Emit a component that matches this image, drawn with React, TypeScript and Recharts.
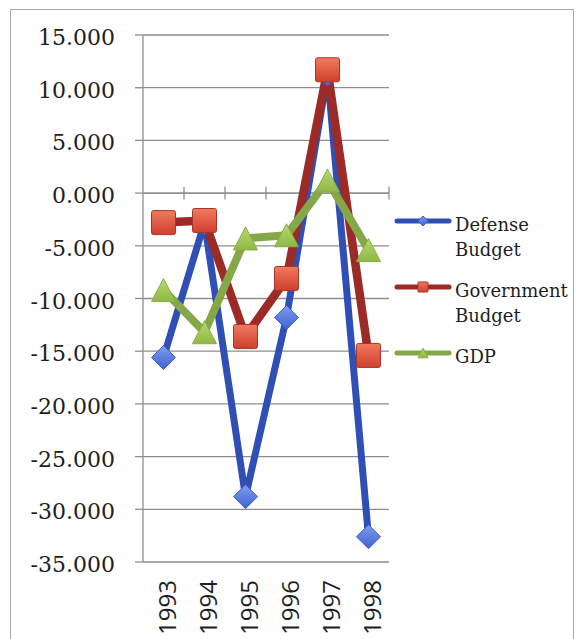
import React from "react";
import {
  LineChart,
  Line,
  XAxis,
  YAxis,
  CartesianGrid,
  ReferenceLine,
  Legend
} from "recharts";

const years = ["1993", "1994", "1995", "1996", "1997", "1998"];
const defenseBudget = [-15.6, -2.8, -28.8, -11.8, 11.3, -32.6];
const governmentBudget = [-2.8, -2.6, -13.6, -8.1, 11.7, -15.4];
const gdp = [-9.2, -13.2, -4.3, -4.0, 1.2, -5.4];
const yTicks = [-35, -30, -25, -20, -15, -10, -5, 0, 5, 10, 15];

// x is a numeric index so the tick marks on the zero line can sit between categories
const chartData = years.map((year, i) => ({
  pos: i + 0.5,
  year,
  defense: defenseBudget[i],
  government: governmentBudget[i],
  gdp: gdp[i]
}));
const xTicks = years.map((_, i) => i + 0.5);
const boundaries = years.map((_, i) => i + 1);

const GRID = "#8e8e8e";
const SERIF = "'DejaVu Serif', serif";

const series = [
  { key: "defense", name: "Defense Budget", line: "#2f4fb5", width: 7, marker: "diamond" },
  { key: "government", name: "Government Budget", line: "#9c2a27", width: 8.5, marker: "square" },
  { key: "gdp", name: "GDP", line: "#84a848", width: 8, marker: "triangle" }
];

function Marker({ kind, cx, cy, s = 1 }: { kind: string; cx: number; cy: number; s?: number }) {
  if (cx == null || cy == null) return null;
  if (kind === "diamond") {
    const r = 12 * s;
    return (
      <polygon
        points={`${cx},${cy - r} ${cx + r},${cy} ${cx},${cy + r} ${cx - r},${cy}`}
        fill="url(#gDiamond)"
        stroke="#3d5fc8"
        strokeWidth={1}
      />
    );
  }
  if (kind === "square") {
    const h = 12 * s;
    return (
      <rect
        x={cx - h}
        y={cy - h}
        width={h * 2}
        height={h * 2}
        rx={2 * s}
        fill="url(#gSquare)"
        stroke="#a8352a"
        strokeWidth={1}
      />
    );
  }
  const w = 12 * s;
  const t = 11.5 * s;
  return (
    <polygon
      points={`${cx},${cy - t} ${cx + w},${cy + t} ${cx - w},${cy + t}`}
      fill="url(#gTriangle)"
      stroke="#88ad40"
      strokeWidth={1}
      strokeLinejoin="round"
    />
  );
}

function YTick(props: any) {
  const { x, y, payload } = props;
  return (
    <text
      x={x}
      y={y}
      dy={10}
      textAnchor="end"
      fontFamily={SERIF}
      fontSize={22}
      fill="#1e1e1e"
    >
      {Number(payload.value).toFixed(3)}
    </text>
  );
}

function XTick(props: any) {
  const { x, y, payload } = props;
  const label = years[Math.floor(payload.value)];
  return (
    <text
      x={x}
      y={y}
      dy={12}
      transform={`rotate(-90, ${x}, ${y})`}
      textAnchor="end"
      fontFamily="'Open Sans', sans-serif"
      fontSize={24}
      fill="#1e1e1e"
    >
      {label}
    </text>
  );
}

function renderLegend() {
  return (
    <div style={{ display: "flex", flexDirection: "column" }}>
      {series.map((s) => (
        <div key={s.key} style={{ display: "flex", alignItems: "flex-start", marginBottom: 16 }}>
          <svg width={58} height={25} style={{ marginRight: 3, flexShrink: 0 }}>
            <line x1={3} y1={9} x2={55} y2={9} stroke={s.line} strokeWidth={5} strokeLinecap="round" />
            <Marker kind={s.marker} cx={29} cy={9} s={0.42} />
          </svg>
          <div
            style={{
              width: 118,
              fontFamily: SERIF,
              fontSize: 18,
              lineHeight: "25px",
              color: "#1e1e1e"
            }}
          >
            {s.name}
          </div>
        </div>
      ))}
    </div>
  );
}

export default function App() {
  return (
    <div
      style={{
        position: "absolute",
        left: 0,
        top: 0,
        width: 577,
        height: 639,
        overflow: "hidden",
        background: "#fff"
      }}
    >
      <div
        style={{
          position: "absolute",
          left: 10,
          top: 9,
          width: 562,
          height: 700,
          border: "1.5px solid #a9a9a9"
        }}
      />
      <LineChart
        width={577}
        height={639}
        data={chartData}
        margin={{ top: 35, right: 188, bottom: 0, left: 0 }}
      >
        <defs>
          <linearGradient id="gDiamond" x1="0" y1="0" x2="0" y2="1">
            <stop offset="0%" stopColor="#7f9cf0" />
            <stop offset="100%" stopColor="#3f63d0" />
          </linearGradient>
          <linearGradient id="gSquare" x1="0" y1="0" x2="0" y2="1">
            <stop offset="0%" stopColor="#f07a5e" />
            <stop offset="100%" stopColor="#cf3f2e" />
          </linearGradient>
          <linearGradient id="gTriangle" x1="0" y1="0" x2="0" y2="1">
            <stop offset="0%" stopColor="#b7d872" />
            <stop offset="100%" stopColor="#8fb845" />
          </linearGradient>
        </defs>
        <CartesianGrid vertical={false} stroke={GRID} strokeWidth={1.3} />
        <XAxis
          dataKey="pos"
          type="number"
          domain={[0, years.length]}
          ticks={xTicks}
          axisLine={false}
          tickLine={false}
          tickSize={0}
          tickMargin={18}
          height={77}
          interval={0}
          tick={<XTick />}
        />
        <YAxis
          domain={[-35, 15]}
          ticks={yTicks}
          width={143}
          axisLine={{ stroke: GRID, strokeWidth: 1.3 }}
          tickLine={{ stroke: GRID, strokeWidth: 1.3 }}
          tickSize={8}
          tickMargin={20}
          interval={0}
          tick={<YTick />}
        />
        <ReferenceLine y={0} stroke={GRID} strokeWidth={1.3} />
        {boundaries.map((b) => (
          <ReferenceLine
            key={b}
            segment={[
              { x: b, y: -0.6 },
              { x: b, y: 0.6 }
            ]}
            stroke={GRID}
            strokeWidth={1.3}
          />
        ))}
        {series.map((s) => (
          <Line
            key={s.key}
            dataKey={s.key}
            name={s.name}
            type="linear"
            stroke={s.line}
            strokeWidth={s.width}
            strokeLinejoin="round"
            isAnimationActive={false}
            dot={(p: any) => <Marker key={`${s.key}-${p.index}`} kind={s.marker} cx={p.cx} cy={p.cy} />}
            activeDot={false}
          />
        ))}
        <Legend
          layout="vertical"
          align="center"
          verticalAlign="middle"
          content={renderLegend}
          wrapperStyle={{ left: 394, top: 212, width: 182 }}
        />
      </LineChart>
    </div>
  );
}
